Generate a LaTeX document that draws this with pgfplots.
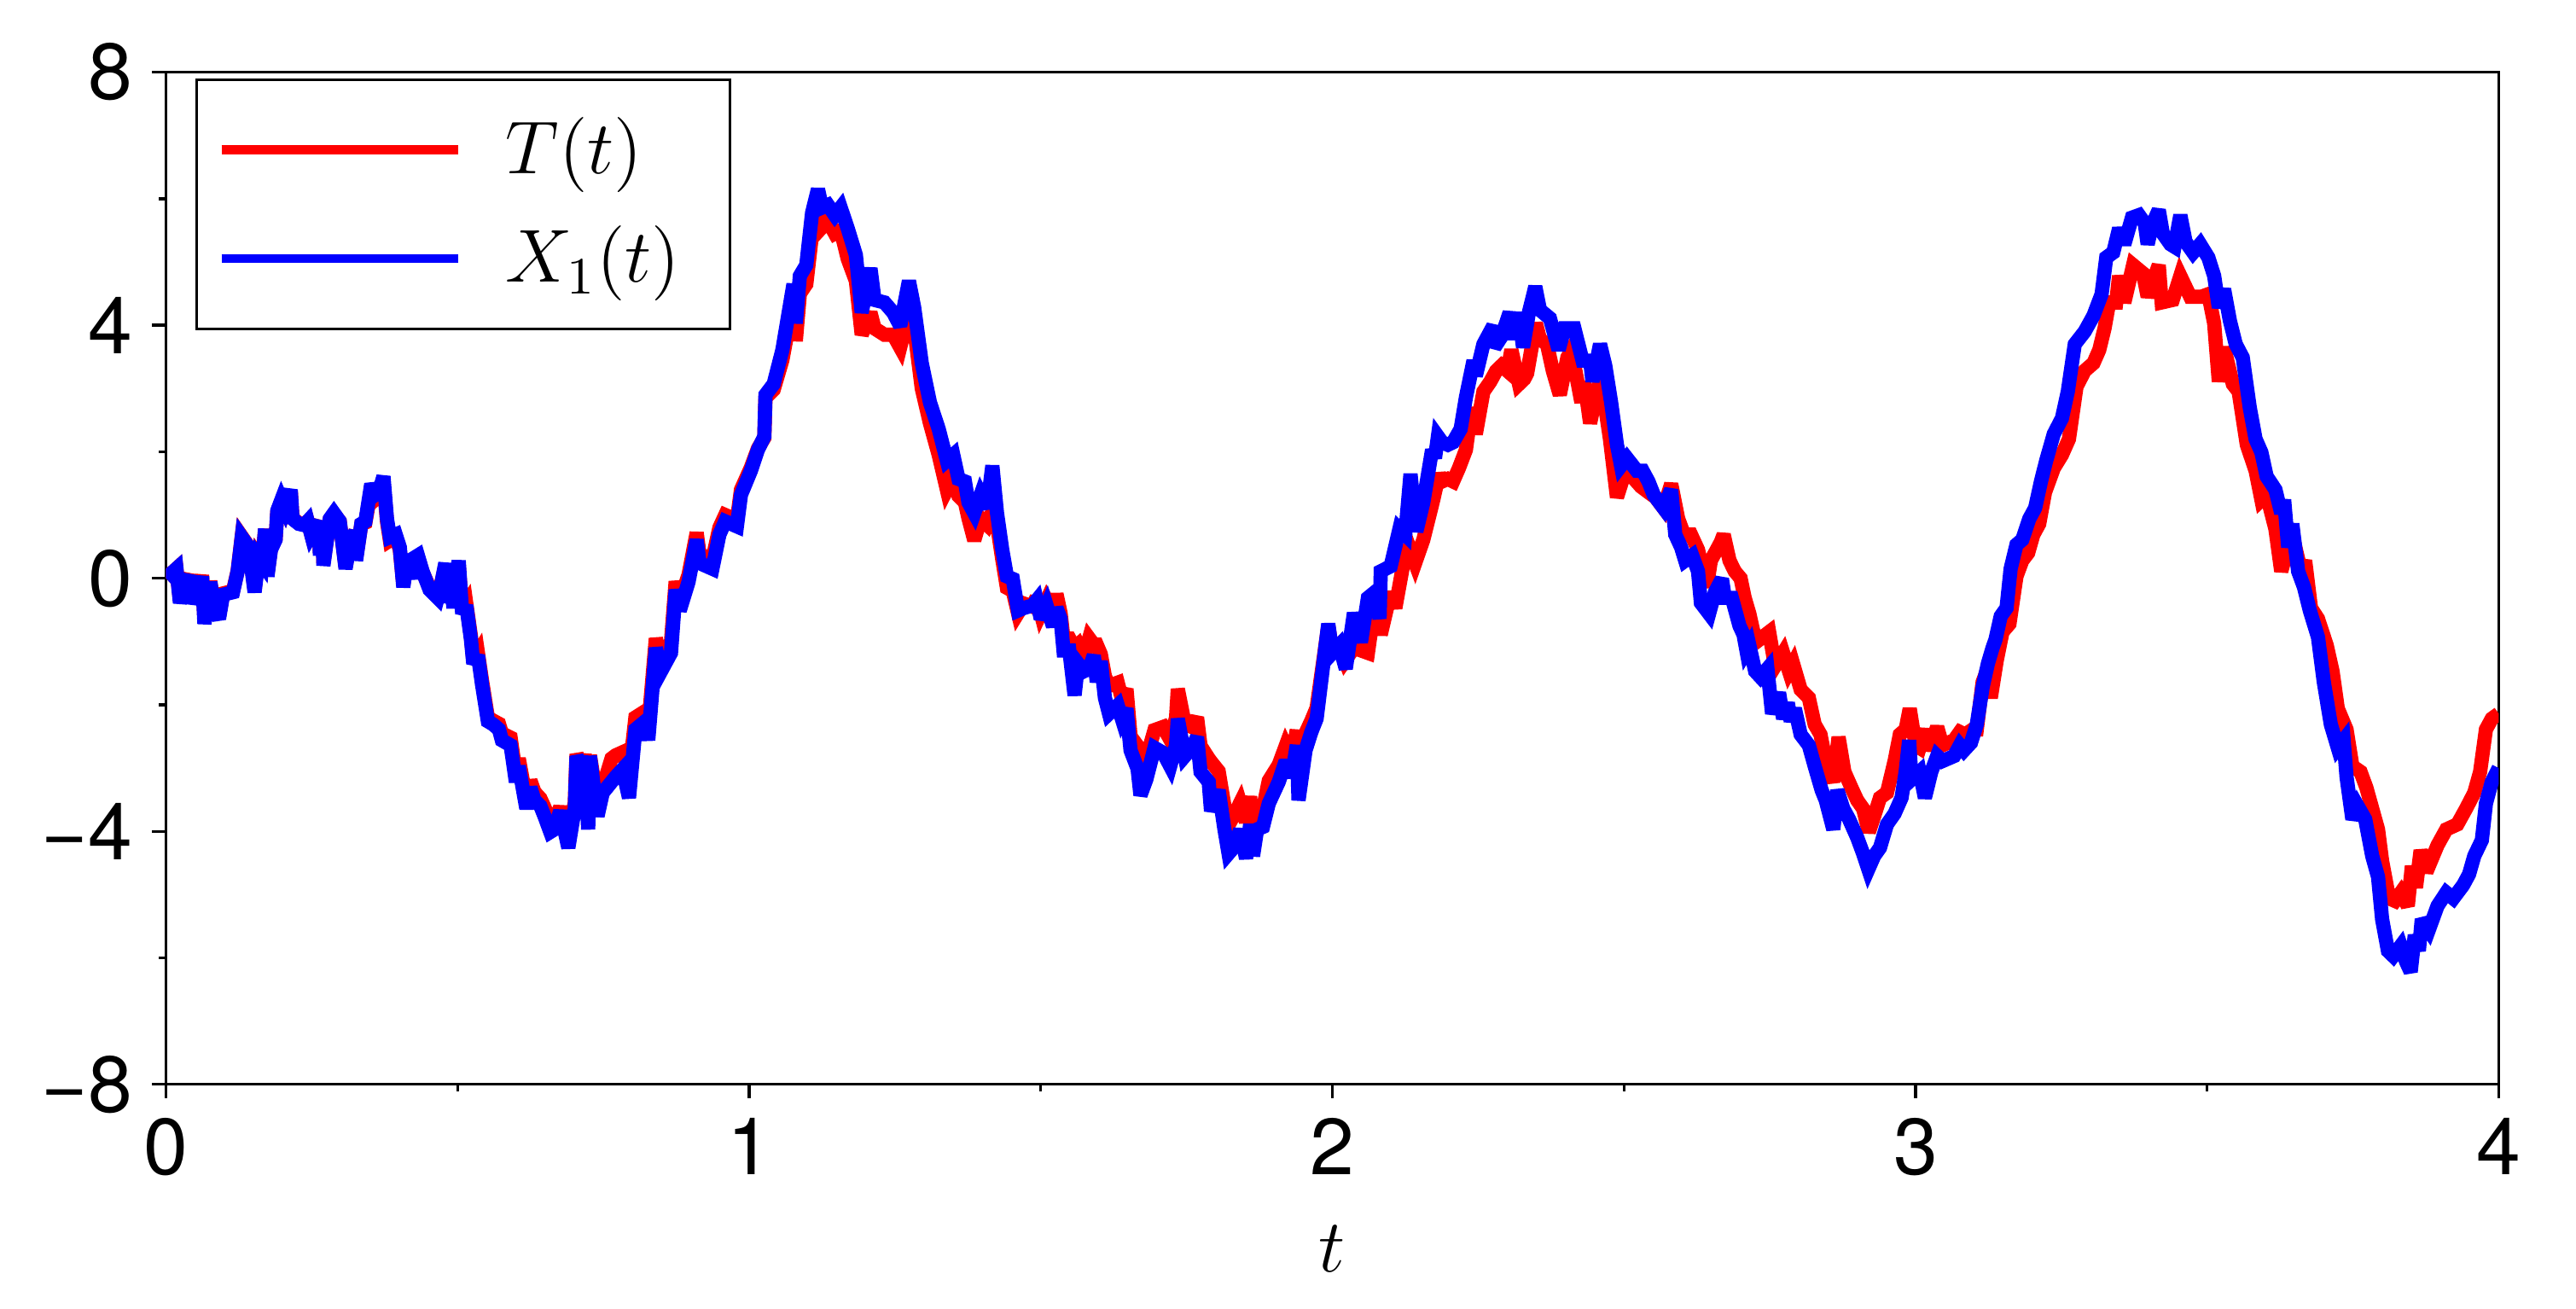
\RequirePackage{fix-cm}
\documentclass[border=0pt]{standalone}
\usepackage{fontspec}
\setmainfont{TeX Gyre Heros}
\usepackage{pgfplots}
\pgfplotsset{compat=1.18}
\begin{document}
\begin{tikzpicture}
\begin{axis}[
 scale only axis, width=410.5pt, height=178.1pt,
 xmin=0,xmax=4,ymin=-8,ymax=8,
 axis line style={line width=0.5pt},
 xtick={0,1,2,3,4}, ytick={-8,-4,0,4,8}, yticklabels={−8,−4,0,4,8},
 minor x tick num=1, minor y tick num=1,
 tick align=outside, xtick pos=bottom, ytick pos=left,
 major tick length=2.4pt, minor tick length=1.2pt,
 every tick/.style={black, line width=0.5pt},
 tick label style={font=\fontsize{14}{16}\selectfont},
 /pgf/number format/assume math mode=true,
 xlabel={$t$}, xlabel style={font=\fontsize{13.2}{15}\selectfont, at={(axis description cs:0.5,0)}, anchor=center, yshift=-28.9pt},
 legend style={at={(axis description cs:0,1)}, anchor=north west, xshift=5.2pt, yshift=-1.1pt, draw=black, line width=0.4pt, inner xsep=3.6pt, inner ysep=6.7pt, nodes={inner sep=0pt}, column sep=7.6pt, row sep=7.7pt, font=\fontsize{13.2}{15}\selectfont},
 legend cell align=left,
 legend image code/.code={\draw[#1, line width=1.6pt, miter limit=10] (0pt,0pt) -- (41.6pt,0pt);},
]
\addplot[color={rgb,1:red,1;green,0;blue,0}, line width=2.5pt, miter limit=3] coordinates {
(0,0.0)(0.018,0.15)(0.024,-0.35)(0.031,-0.12)(0.041,0.05)(0.045,-0.28)(0.054,-0.3)(0.062,0.05)(0.066,-0.65)(0.076,-0.05)(0.084,-0.48)(0.091,-0.6)(0.098,-0.24)(0.115,-0.2)(0.123,0.12)(0.130,0.66)(0.142,0.5)(0.152,-0.18)(0.159,0.34)(0.165,0.26)(0.170,0.78)(0.174,0.06)(0.180,0.47)(0.188,0.62)(0.191,1.05)(0.198,1.22)(0.204,1.1)(0.214,1.38)(0.217,0.95)(0.228,0.87)(0.237,0.85)(0.243,0.9)(0.249,0.7)(0.262,0.9)(0.264,0.4)(0.269,0.66)(0.270,0.24)(0.281,0.93)(0.288,1.02)(0.298,0.9)(0.308,0.18)(0.315,0.54)(0.325,0.74)(0.326,0.32)(0.335,0.85)(0.342,0.88)(0.352,1.4)(0.359,1.25)(0.365,1.3)(0.373,1.52)(0.379,0.9)(0.384,0.6)(0.394,0.66)(0.401,0.45)(0.407,-0.1)(0.414,0.3)(0.421,0.0)(0.425,0.3)(0.432,0.33)(0.440,0.1)(0.452,-0.15)(0.466,-0.27)(0.471,-0.12)(0.479,0.2)(0.481,-0.33)(0.488,0.03)(0.493,-0.42)(0.502,0.22)(0.508,-0.5)(0.515,-0.4)(0.523,-0.92)(0.527,-1.3)(0.535,-1.18)(0.542,-1.62)(0.552,-2.2)(0.561,-2.25)(0.571,-2.3)(0.576,-2.45)(0.591,-2.52)(0.600,-3.1)(0.605,-2.85)(0.618,-3.5)(0.625,-3.2)(0.632,-3.38)(0.642,-3.48)(0.649,-3.62)(0.659,-3.85)
(0.666,-3.85)(0.676,-3.62)(0.690,-4.05)(0.701,-3.55)(0.704,-2.78)(0.713,-3.0)(0.718,-2.78)(0.724,-3.7)(0.727,-2.8)(0.740,-3.55)(0.749,-3.3)(0.764,-2.85)(0.771,-2.8)(0.783,-2.75)(0.794,-3.1)(0.805,-2.2)(0.822,-2.1)(0.827,-2.35)(0.840,-0.95)(0.849,-1.3)(0.866,-1.0)(0.874,-0.05)(0.881,-0.35)(0.896,0.05)(0.910,0.72)(0.915,0.38)(0.937,0.3)(0.949,0.8)(0.959,1.0)(0.979,0.92)(0.986,1.4)(1.003,1.75)(1.015,2.05)(1.026,2.22)(1.028,2.85)(1.042,2.98)(1.057,3.45)(1.076,4.4)(1.080,3.75)(1.087,4.5)(1.098,4.65)(1.108,5.45)(1.118,5.85)(1.125,5.55)(1.135,5.65)(1.147,5.45)(1.157,5.5)(1.169,5.05)(1.183,4.7)(1.193,3.85)(1.208,4.2)(1.215,3.95)(1.232,3.85)(1.247,3.85)(1.259,3.65)(1.274,4.2)(1.283,3.95)(1.296,3.0)(1.310,2.45)(1.325,1.95)(1.339,1.4)
(1.350,1.6)(1.359,1.3)(1.370,1.2)(1.376,0.95)(1.386,0.6)(1.397,0.95)(1.408,0.85)(1.417,1.05)(1.425,0.85)(1.434,0.3)(1.442,-0.15)(1.452,-0.2)(1.461,-0.55)(1.471,-0.4)(1.486,-0.45)(1.493,-0.3)(1.500,-0.55)(1.510,-0.35)(1.521,-0.55)(1.527,-0.25)(1.534,-0.55)(1.539,-0.95)(1.549,-0.95)(1.558,-1.1)(1.564,-1.05)(1.574,-1.25)(1.583,-0.95)(1.591,-1.05)(1.596,-1.05)(1.603,-1.2)(1.610,-1.55)(1.617,-1.7)(1.632,-1.65)(1.639,-1.9)(1.647,-1.75)(1.654,-2.5)(1.666,-2.65)(1.671,-2.8)(1.681,-2.85)(1.695,-2.4)(1.710,-2.35)(1.722,-2.55)(1.732,-2.2)(1.735,-1.75)(1.747,-2.3)(1.759,-2.35)(1.768,-2.2)(1.774,-2.65)(1.788,-2.85)(1.792,-2.9)(1.805,-3.05)(1.815,-3.6)(1.822,-3.9)(1.834,-3.7)(1.842,-3.55)(1.852,-3.85)(1.859,-3.45)(1.864,-3.9)(1.871,-3.65)(1.881,-3.65)(1.891,-3.2)(1.908,-2.95)(1.920,-2.65)(1.930,-2.85)(1.939,-2.4)(1.942,-3.05)(1.954,-2.45)(1.964,-2.25)(1.973,-2.05)(1.983,-1.4)(1.993,-0.75)(2.000,-1.15)(2.012,-1.05)(2.022,-1.3)
(2.037,-1.1)(2.049,-1.14)(2.061,-1.18)(2.073,-0.39)(2.083,-0.89)(2.100,-0.22)(2.108,-0.47)(2.122,0.24)(2.132,0.49)(2.142,0.24)(2.156,0.61)(2.173,1.24)(2.183,1.65)(2.188,1.53)(2.198,1.57)(2.207,1.53)(2.217,1.74)(2.229,2.03)(2.239,2.70)(2.246,2.28)(2.259,2.95)(2.271,3.11)(2.281,3.28)(2.290,3.36)(2.300,3.28)(2.307,3.61)(2.320,3.07)(2.329,3.15)(2.334,3.24)(2.349,4.03)(2.356,3.78)(2.368,3.70)(2.378,3.28)(2.390,2.90)(2.403,3.49)(2.410,3.61)(2.427,2.78)(2.432,3.11)(2.442,2.45)(2.451,2.86)(2.459,3.11)(2.468,2.70)(2.476,2.20)(2.488,1.28)(2.498,1.57)(2.510,1.65)(2.529,1.45)(2.542,1.36)(2.554,1.28)(2.568,1.11)(2.581,1.49)(2.593,0.94)(2.603,0.69)(2.615,0.69)(2.627,0.45)(2.642,-0.14)(2.649,0.28)(2.659,0.45)(2.666,0.57)(2.671,0.69)(2.681,0.28)(2.690,0.11)(2.700,0.0)
(2.707,-0.31)(2.715,-0.56)(2.722,-0.85)(2.732,-0.97)(2.749,-0.85)(2.759,-1.39)(2.773,-1.18)(2.783,-1.47)(2.790,-1.35)(2.803,-1.76)(2.817,-1.89)(2.827,-2.31)(2.837,-2.47)(2.846,-2.89)(2.859,-3.22)(2.868,-2.51)(2.878,-3.06)(2.890,-3.31)(2.900,-3.51)(2.910,-3.64)(2.920,-4.01)(2.929,-3.76)(2.939,-3.47)(2.951,-3.39)(2.964,-2.89)(2.973,-2.47)(2.983,-2.39)(2.990,-2.06)(3.000,-2.64)(3.007,-2.68)(3.017,-2.39)(3.024,-2.72)(3.037,-2.35)(3.046,-2.64)(3.066,-2.56)(3.076,-2.43)(3.085,-2.47)(3.098,-2.39)(3.105,-2.39)(3.115,-1.64)(3.122,-1.47)(3.129,-1.89)(3.139,-1.31)(3.149,-0.85)(3.161,-0.72)(3.173,0.03)(3.183,0.28)(3.193,0.40)(3.202,0.69)(3.212,0.86)(3.222,1.36)(3.237,1.74)(3.251,1.95)(3.263,2.20)(3.276,3.03)(3.290,3.28)(3.305,3.40)(3.315,3.61)(3.324,3.95)(3.332,4.36)(3.344,4.36)(3.349,4.78)(3.358,4.36)
(3.373,4.95)(3.390,4.82)(3.398,4.45)(3.417,4.95)(3.422,4.36)(3.441,4.40)(3.454,4.78)(3.471,4.45)(3.490,4.45)(3.502,4.49)(3.512,4.03)(3.520,3.11)(3.529,3.65)(3.544,3.07)(3.554,2.95)(3.568,2.11)(3.583,1.70)(3.593,1.24)(3.602,1.32)(3.617,0.78)(3.627,0.11)(3.637,0.45)(3.646,0.69)(3.661,0.11)(3.668,0.28)(3.678,-0.47)(3.690,-0.64)(3.705,-1.06)(3.715,-1.47)(3.724,-2.06)(3.739,-2.39)(3.749,-2.97)(3.763,-3.06)(3.773,-3.31)(3.783,-3.64)(3.793,-3.97)(3.800,-4.47)(3.812,-5.06)(3.822,-5.10)(3.832,-4.97)(3.844,-5.18)(3.851,-4.55)(3.858,-4.89)(3.866,-4.30)(3.876,-4.64)(3.895,-4.22)(3.910,-3.97)(3.929,-3.89)(3.944,-3.64)(3.958,-3.39)(3.968,-3.06)(3.978,-2.39)(3.988,-2.22)(4.0,-2.14)
};
\addlegendentry{$T(t)$}
\addplot[color={rgb,1:red,0;green,0;blue,1}, line width=2.5pt, miter limit=3] coordinates {
(0,0.0)(0.018,0.15)(0.024,-0.39)(0.031,-0.14)(0.041,0.04)(0.045,-0.31)(0.054,-0.32)(0.062,0.03)(0.066,-0.72)(0.076,-0.06)(0.084,-0.51)(0.091,-0.64)(0.098,-0.26)(0.115,-0.22)(0.123,0.11)(0.130,0.65)(0.142,0.49)(0.152,-0.22)(0.159,0.32)(0.165,0.24)(0.170,0.78)(0.174,0.03)(0.180,0.45)(0.188,0.61)(0.191,1.07)(0.198,1.24)(0.204,1.11)(0.214,1.40)(0.217,0.94)(0.228,0.86)(0.237,0.84)(0.243,0.90)(0.249,0.69)(0.262,0.90)(0.264,0.36)(0.269,0.65)(0.270,0.20)(0.281,0.94)(0.288,1.03)(0.298,0.90)(0.308,0.15)(0.315,0.53)(0.325,0.74)(0.326,0.28)(0.335,0.86)(0.342,0.90)(0.352,1.49)(0.359,1.32)(0.365,1.36)(0.373,1.61)(0.379,0.94)(0.384,0.65)(0.394,0.69)(0.401,0.49)(0.407,-0.14)(0.414,0.32)(0.421,-0.01)(0.425,0.32)(0.432,0.36)(0.440,0.11)(0.452,-0.18)(0.466,-0.31)(0.471,-0.14)(0.479,0.24)(0.481,-0.39)(0.488,0.03)(0.493,-0.47)(0.502,0.28)(0.508,-0.56)(0.515,-0.43)(0.523,-0.97)(0.527,-1.35)(0.535,-1.22)(0.542,-1.68)(0.552,-2.26)(0.561,-2.31)(0.571,-2.39)(0.576,-2.56)(0.591,-2.64)(0.600,-3.22)(0.605,-2.97)(0.618,-3.64)(0.625,-3.31)(0.632,-3.51)(0.642,-3.60)(0.649,-3.76)(0.659,-4.01)
(0.666,-3.97)(0.676,-3.68)(0.690,-4.26)(0.701,-3.64)(0.704,-2.81)(0.713,-3.02)(0.718,-2.81)(0.724,-3.97)(0.727,-2.81)(0.740,-3.76)(0.749,-3.39)(0.764,-3.22)(0.771,-3.14)(0.783,-3.02)(0.794,-3.47)(0.805,-2.39)(0.822,-2.26)(0.827,-2.56)(0.840,-1.10)(0.849,-1.47)(0.866,-1.18)(0.874,-0.18)(0.881,-0.51)(0.896,-0.06)(0.910,0.61)(0.915,0.24)(0.937,0.15)(0.949,0.69)(0.959,0.90)(0.979,0.82)(0.986,1.32)(1.003,1.70)(1.015,2.03)(1.026,2.24)(1.028,2.90)(1.042,3.07)(1.057,3.61)(1.076,4.65)(1.080,4.03)(1.087,4.78)(1.098,4.95)(1.108,5.78)(1.118,6.15)(1.125,5.86)(1.135,5.90)(1.147,5.74)(1.157,5.86)(1.169,5.53)(1.183,5.11)(1.193,4.20)(1.208,4.90)(1.215,4.40)(1.232,4.36)(1.247,4.20)(1.259,3.99)(1.274,4.70)(1.283,4.28)(1.296,3.40)(1.310,2.78)(1.325,2.36)(1.339,1.86)
(1.350,1.95)(1.359,1.57)(1.370,1.53)(1.376,1.20)(1.386,1.03)(1.397,1.32)(1.408,1.11)(1.417,1.78)(1.425,1.03)(1.434,0.45)(1.442,0.03)(1.452,-0.01)(1.461,-0.51)(1.471,-0.47)(1.486,-0.43)(1.493,-0.35)(1.500,-0.64)(1.510,-0.43)(1.521,-0.76)(1.527,-0.47)(1.534,-0.64)(1.539,-1.14)(1.549,-1.14)(1.558,-1.85)(1.564,-1.35)(1.574,-1.47)(1.583,-1.43)(1.591,-1.22)(1.596,-1.64)(1.603,-1.31)(1.610,-1.89)(1.617,-2.14)(1.632,-2.01)(1.639,-2.22)(1.647,-2.06)(1.654,-2.72)(1.666,-3.01)(1.671,-3.43)(1.681,-3.18)(1.695,-2.68)(1.710,-2.76)(1.722,-2.97)(1.732,-2.64)(1.735,-2.22)(1.747,-2.81)(1.759,-2.68)(1.768,-2.51)(1.774,-3.06)(1.788,-3.22)(1.792,-3.68)(1.805,-3.35)(1.815,-3.97)(1.822,-4.35)(1.834,-4.22)(1.842,-3.97)(1.852,-4.43)(1.859,-3.89)(1.864,-4.39)(1.871,-3.97)(1.881,-3.93)(1.891,-3.56)(1.908,-3.22)(1.920,-2.89)(1.930,-3.14)(1.939,-2.64)(1.942,-3.51)(1.954,-2.72)(1.964,-2.43)(1.973,-2.22)(1.983,-1.47)(1.993,-0.72)(2.000,-1.18)(2.012,-1.06)
(2.023,-1.43)(2.037,-0.55)(2.049,-1.01)(2.061,-0.31)(2.073,-0.22)(2.081,-0.64)(2.083,0.11)(2.100,0.19)(2.115,0.78)(2.125,0.69)(2.134,1.65)(2.144,0.74)(2.156,1.20)(2.171,2.03)(2.176,1.90)(2.181,2.24)(2.188,2.15)(2.198,2.11)(2.207,2.15)(2.220,2.36)(2.229,2.86)(2.242,3.44)(2.246,3.20)(2.259,3.70)(2.276,3.99)(2.278,3.65)(2.290,3.82)(2.304,4.20)(2.312,3.78)(2.319,4.20)(2.327,3.65)(2.337,4.20)(2.348,4.61)(2.356,4.24)(2.373,4.11)(2.388,3.61)(2.398,3.95)(2.415,3.95)(2.429,3.44)(2.442,3.44)(2.446,3.11)(2.459,3.70)(2.468,3.36)(2.478,2.78)(2.488,2.11)(2.495,1.78)(2.505,1.90)(2.522,1.70)(2.532,1.70)(2.542,1.53)(2.551,1.32)(2.568,1.11)(2.581,1.40)(2.588,0.69)(2.598,0.49)(2.605,0.28)(2.617,0.36)(2.627,0.11)(2.632,-0.39)(2.646,-0.56)(2.656,-0.22)(2.668,-0.01)(2.673,-0.31)(2.685,-0.31)(2.698,-0.75)
(2.705,-0.89)(2.710,-1.14)(2.715,-1.06)(2.725,-1.47)(2.734,-1.56)(2.746,-1.43)(2.754,-2.14)(2.766,-1.81)(2.773,-2.22)(2.781,-1.97)(2.786,-2.26)(2.793,-2.06)(2.803,-2.47)(2.817,-2.64)(2.827,-2.97)(2.839,-3.35)(2.846,-3.51)(2.859,-3.97)(2.866,-3.35)(2.876,-3.64)(2.886,-3.81)(2.900,-4.10)(2.910,-4.35)(2.919,-4.60)(2.929,-4.39)(2.939,-4.26)(2.951,-3.89)(2.964,-3.72)(2.976,-3.47)(2.983,-3.06)(2.989,-2.56)(2.993,-3.18)(3.007,-3.06)(3.016,-3.47)(3.027,-3.06)(3.037,-2.81)(3.046,-2.89)(3.066,-2.81)(3.076,-2.64)(3.083,-2.72)(3.095,-2.60)(3.105,-2.31)(3.115,-1.72)(3.124,-1.35)(3.132,-1.10)(3.137,-0.97)(3.146,-0.60)(3.156,-0.47)(3.163,0.15)(3.173,0.53)(3.183,0.61)(3.195,0.94)(3.205,1.11)(3.215,1.53)(3.224,1.86)(3.237,2.28)(3.251,2.53)(3.261,2.95)(3.273,3.70)(3.290,3.90)(3.305,4.15)(3.319,4.49)(3.327,5.07)(3.339,5.15)(3.349,5.53)(3.358,5.28)(3.371,5.70)
(3.383,5.74)(3.393,5.61)(3.398,5.28)(3.405,5.57)(3.417,5.82)(3.424,5.45)(3.437,5.28)(3.444,5.24)(3.454,5.74)(3.463,5.32)(3.476,5.15)(3.488,5.28)(3.502,5.07)(3.512,4.78)(3.520,4.28)(3.529,4.57)(3.539,4.07)(3.549,3.70)(3.561,3.49)(3.573,2.70)(3.583,2.20)(3.593,1.99)(3.602,1.61)(3.617,1.40)(3.627,1.03)(3.632,1.24)(3.639,0.49)(3.646,0.86)(3.656,0.11)(3.666,-0.14)(3.676,-0.51)(3.690,-0.93)(3.700,-1.64)(3.712,-2.31)(3.724,-2.68)(3.734,-2.56)(3.739,-3.14)(3.749,-3.81)(3.758,-3.60)(3.771,-3.81)(3.783,-4.39)(3.793,-4.72)(3.800,-5.39)(3.810,-5.89)(3.819,-5.97)(3.832,-5.81)(3.841,-6.06)(3.849,-6.22)(3.856,-5.64)(3.863,-5.89)(3.868,-5.39)(3.880,-5.56)(3.895,-5.18)(3.910,-4.97)(3.922,-5.06)(3.939,-4.85)(3.949,-4.68)(3.958,-4.39)(3.971,-4.14)(3.978,-3.56)(3.988,-3.22)(4.0,-3.0)
};
\addlegendentry{$X_1(t)$\rule{5.2pt}{0pt}}
\coordinate (sw) at (rel axis cs:0,0);
\coordinate (ne) at (rel axis cs:1,1);
\end{axis}
\path ([shift={(-29.2pt,-39.5pt)}]sw) rectangle ([shift={(13.6pt,12.7pt)}]ne);
\end{tikzpicture}
\end{document}
